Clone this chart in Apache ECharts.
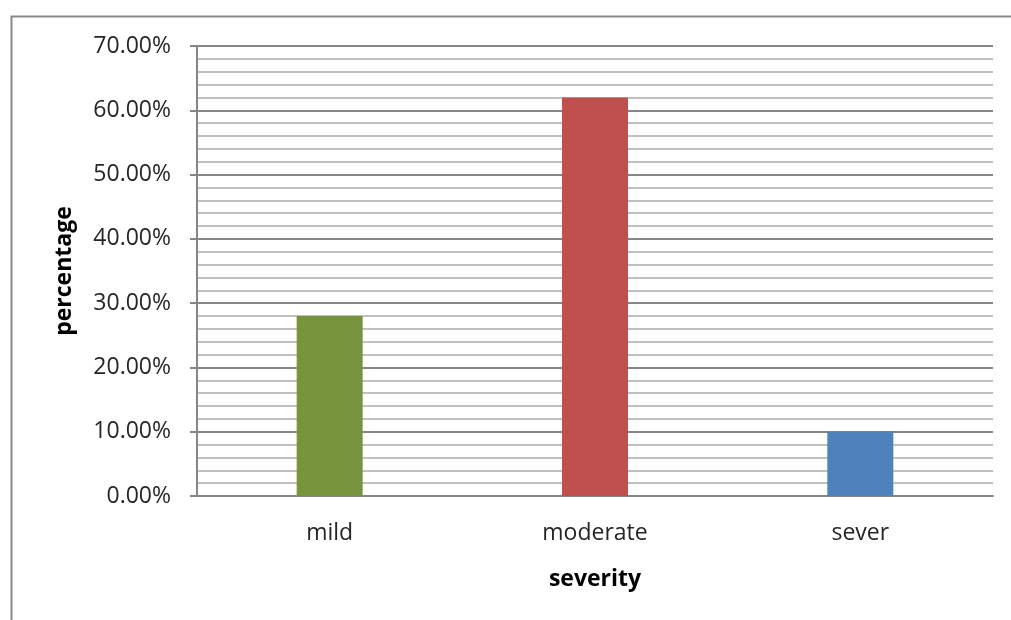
<!DOCTYPE html>
<html>
<head>
<meta charset="utf-8">
<script src="https://cdn.jsdelivr.net/npm/echarts@6/dist/echarts.min.js"></script>
<style>
  html, body { margin: 0; padding: 0; background: #fff; }
  #chart { width: 1011px; height: 620px; }
</style>
</head>
<body>
<div id="chart"></div>
<script>
// Severity distribution (share of cases)
const categories = ['mild', 'moderate', 'sever'];
const percentages = [0.28, 0.62, 0.10];
const barColors = ['#77933C', '#C0504D', '#4F81BD'];
const yTicks = { min: 0, max: 0.7, step: 0.1 };

const FONT = '"Open Sans", "Noto Sans", sans-serif';
const chart = echarts.init(document.getElementById('chart'), null, { renderer: 'canvas' });

chart.setOption({
  animation: false,
  backgroundColor: '#ffffff',
  graphic: [{
    type: 'rect',
    left: 9, top: 14,
    shape: { width: 1100, height: 700 },
    style: { fill: 'none', stroke: '#878787', lineWidth: 2 },
    silent: true
  }],
  grid: { left: 197, right: 18, top: 46, bottom: 124 },
  xAxis: {
    type: 'category',
    data: categories,
    name: 'severity',
    nameLocation: 'middle',
    nameGap: 72,
    nameTextStyle: { fontFamily: FONT, fontSize: 23, fontWeight: 'bold', color: '#000' },
    axisLine: { lineStyle: { color: '#868686', width: 2 } },
    axisTick: { show: false },
    axisLabel: { fontFamily: FONT, fontSize: 23, color: '#262626', margin: 26 },
    splitLine: { show: false }
  },
  yAxis: {
    type: 'value',
    min: yTicks.min,
    max: yTicks.max,
    interval: yTicks.step,
    name: 'percentage',
    nameLocation: 'middle',
    nameRotate: 90,
    nameGap: 121,
    nameTextStyle: { fontFamily: FONT, fontSize: 23, fontWeight: 'bold', color: '#000' },
    axisLine: { show: true, lineStyle: { color: '#868686', width: 2 } },
    axisTick: { show: true, length: 7, lineStyle: { color: '#868686', width: 2 } },
    axisLabel: {
      fontFamily: FONT, fontSize: 23, color: '#262626', margin: 26,
      formatter: v => (v * 100).toFixed(2) + '%'
    },
    splitLine: { show: true, lineStyle: { color: '#868686', width: 2 } },
    minorTick: { show: false, splitNumber: 5 },
    minorSplitLine: { show: true, lineStyle: { color: '#c0c0c0', width: 2 } }
  },
  series: [{
    type: 'bar',
    barWidth: 66,
    data: percentages.map((v, i) => ({ value: v, itemStyle: { color: barColors[i] } })),
    z: 3
  }]
});
</script>
</body>
</html>
